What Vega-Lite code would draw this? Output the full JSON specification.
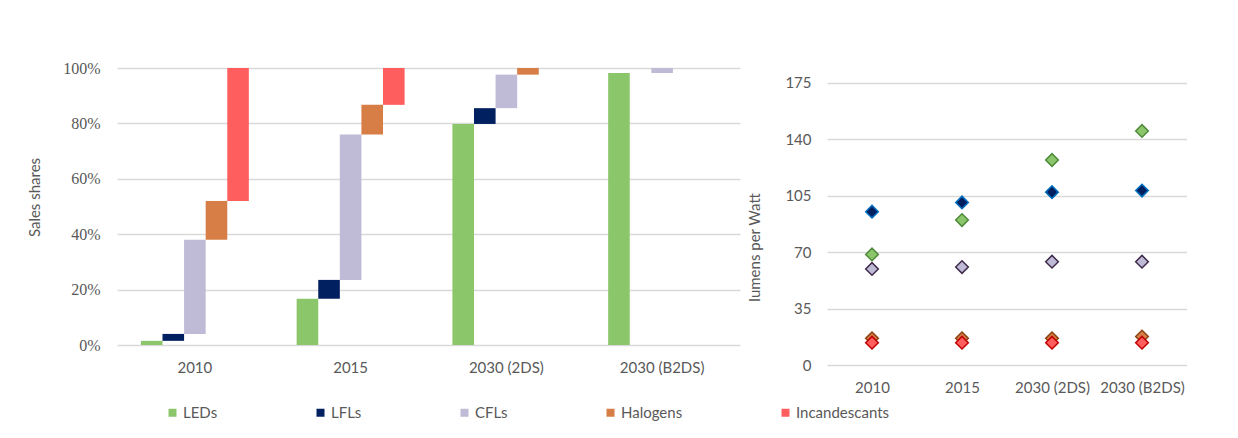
{
  "$schema": "https://vega.github.io/schema/vega-lite/v6.json",
  "background": "white",
  "padding": {"left": 26, "top": 60, "right": 0, "bottom": 0},
  "datasets": {
    "shares": [
      {"scenario": "2010", "technology": "LEDs", "start": 0, "end": 0.015},
      {"scenario": "2010", "technology": "LFLs", "start": 0.015, "end": 0.04},
      {"scenario": "2010", "technology": "CFLs", "start": 0.04, "end": 0.38},
      {"scenario": "2010", "technology": "Halogens", "start": 0.38, "end": 0.52},
      {"scenario": "2010", "technology": "Incandescants", "start": 0.52, "end": 1.0},
      {"scenario": "2015", "technology": "LEDs", "start": 0, "end": 0.167},
      {"scenario": "2015", "technology": "LFLs", "start": 0.167, "end": 0.235},
      {"scenario": "2015", "technology": "CFLs", "start": 0.235, "end": 0.76},
      {"scenario": "2015", "technology": "Halogens", "start": 0.76, "end": 0.867},
      {"scenario": "2015", "technology": "Incandescants", "start": 0.867, "end": 1.0},
      {"scenario": "2030 (2DS)", "technology": "LEDs", "start": 0, "end": 0.798},
      {"scenario": "2030 (2DS)", "technology": "LFLs", "start": 0.798, "end": 0.855},
      {"scenario": "2030 (2DS)", "technology": "CFLs", "start": 0.855, "end": 0.976},
      {"scenario": "2030 (2DS)", "technology": "Halogens", "start": 0.976, "end": 1.0},
      {"scenario": "2030 (B2DS)", "technology": "LEDs", "start": 0, "end": 0.982},
      {"scenario": "2030 (B2DS)", "technology": "CFLs", "start": 0.982, "end": 1.0}
    ],
    "efficacy": [
      {"scenario": "2010", "technology": "LEDs", "lmW": 68.5},
      {"scenario": "2010", "technology": "LFLs", "lmW": 95},
      {"scenario": "2010", "technology": "CFLs", "lmW": 59.5},
      {"scenario": "2010", "technology": "Halogens", "lmW": 16.5},
      {"scenario": "2010", "technology": "Incandescants", "lmW": 13.8},
      {"scenario": "2015", "technology": "LEDs", "lmW": 89.8},
      {"scenario": "2015", "technology": "LFLs", "lmW": 100.7},
      {"scenario": "2015", "technology": "CFLs", "lmW": 60.7},
      {"scenario": "2015", "technology": "Halogens", "lmW": 16.5},
      {"scenario": "2015", "technology": "Incandescants", "lmW": 13.8},
      {"scenario": "2030 (2DS)", "technology": "LEDs", "lmW": 127},
      {"scenario": "2030 (2DS)", "technology": "LFLs", "lmW": 107.1},
      {"scenario": "2030 (2DS)", "technology": "CFLs", "lmW": 64},
      {"scenario": "2030 (2DS)", "technology": "Halogens", "lmW": 16.5},
      {"scenario": "2030 (2DS)", "technology": "Incandescants", "lmW": 13.8},
      {"scenario": "2030 (B2DS)", "technology": "LEDs", "lmW": 145},
      {"scenario": "2030 (B2DS)", "technology": "LFLs", "lmW": 108.1},
      {"scenario": "2030 (B2DS)", "technology": "CFLs", "lmW": 64},
      {"scenario": "2030 (B2DS)", "technology": "Halogens", "lmW": 17.6},
      {"scenario": "2030 (B2DS)", "technology": "Incandescants", "lmW": 13.8}
    ]
  },
  "config": {
    "view": {"stroke": null},
    "font": "Lato",
    "axis": {
      "labelFont": "Lato",
      "labelFontSize": 15,
      "labelColor": "#595959",
      "titleFont": "Lato",
      "titleFontSize": 15,
      "titleFontWeight": "normal",
      "titleColor": "#595959",
      "domain": false,
      "ticks": false,
      "tickSize": 0,
      "gridColor": "#D9D9D9",
      "gridWidth": 1.5
    },
    "legend": {
      "labelFont": "Lato",
      "labelFontSize": 15,
      "labelColor": "#595959"
    }
  },
  "spacing": 7,
  "hconcat": [
    {
      "width": 623,
      "height": 277,
      "data": {"name": "shares"},
      "mark": {"type": "bar"},
      "encoding": {
        "x": {
          "field": "scenario",
          "type": "nominal",
          "sort": ["2010", "2015", "2030 (2DS)", "2030 (B2DS)"],
          "scale": {"paddingInner": 0.307, "paddingOuter": 0.1535},
          "title": null,
          "axis": {"labelAngle": 0, "labelPadding": 15, "grid": false, "labelOverlap": false}
        },
        "xOffset": {
          "field": "technology",
          "type": "nominal",
          "scale": {"domain": ["LEDs", "LFLs", "CFLs", "Halogens", "Incandescants"], "paddingInner": 0, "paddingOuter": 0}
        },
        "y": {
          "field": "start",
          "type": "quantitative",
          "scale": {"domain": [0, 1], "nice": false},
          "title": "Sales shares",
          "axis": {
            "values": [0, 0.2, 0.4, 0.6, 0.8, 1.0],
            "format": ".0%",
            "labelFont": "Liberation Serif, Times New Roman, serif",
            "labelFontSize": 16,
            "labelPadding": 17,
            "titleX": -83,
            "titleY": 129,
            "titleBaseline": "middle",
            "titleAngle": -90
          }
        },
        "y2": {"field": "end"},
        "color": {
          "field": "technology",
          "type": "nominal",
          "scale": {
            "domain": ["LEDs", "LFLs", "CFLs", "Halogens", "Incandescants"],
            "range": ["#8CC66A", "#002060", "#BFBAD5", "#D77D46", "#FF5E5E"]
          },
          "legend": {
            "title": null,
            "orient": "none",
            "direction": "horizontal",
            "legendX": 48,
            "legendY": 337,
            "symbolType": "square",
            "symbolSize": 64,
            "symbolStrokeWidth": 0,
            "labelOffset": 3,
            "columnPadding": 95
          }
        }
      }
    },
    {
      "width": 360,
      "height": 297,
      "data": {"name": "efficacy"},
      "mark": {"type": "point", "shape": "diamond", "filled": true, "size": 160, "strokeWidth": 1.5, "opacity": 1},
      "encoding": {
        "x": {
          "field": "scenario",
          "type": "nominal",
          "sort": ["2010", "2015", "2030 (2DS)", "2030 (B2DS)"],
          "scale": {"type": "point", "padding": 0.5},
          "title": null,
          "axis": {"labelAngle": 0, "labelPadding": 15, "grid": false, "labelOverlap": false}
        },
        "y": {
          "field": "lmW",
          "type": "quantitative",
          "scale": {"domain": [0, 184], "nice": false},
          "title": "lumens per Watt",
          "axis": {
            "values": [0, 35, 70, 105, 140, 175],
            "labelPadding": 16,
            "titleX": -73,
            "titleY": 179,
            "titleBaseline": "middle",
            "titleAngle": -90
          }
        },
        "color": {
          "field": "technology",
          "type": "nominal",
          "scale": {
            "domain": ["LEDs", "LFLs", "CFLs", "Halogens", "Incandescants"],
            "range": ["#8CC66A", "#002060", "#BFBAD5", "#D77D46", "#FF5E5E"]
          }
        },
        "stroke": {
          "field": "technology",
          "type": "nominal",
          "scale": {
            "domain": ["LEDs", "LFLs", "CFLs", "Halogens", "Incandescants"],
            "range": ["#4E8A3A", "#0070C0", "#3F2A4A", "#8B4513", "#C00000"]
          },
          "legend": null
        }
      }
    }
  ]
}
